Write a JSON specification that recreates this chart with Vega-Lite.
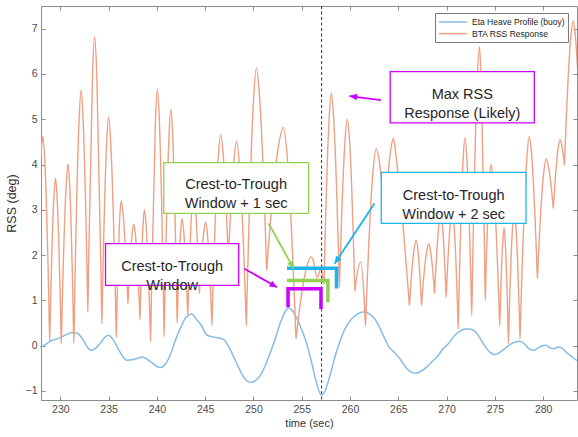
{
 "$schema": "https://vega.github.io/schema/vega-lite/v6.json",
 "width": 536,
 "height": 394,
 "autosize": {"type": "none"},
 "padding": {"left": 41, "top": 6, "right": 1, "bottom": 37},
 "background": "white",
 "config": {
  "view": {"stroke": null},
  "axis": {"grid": false, "domainColor": "#8c8c8c", "tickColor": "#8c8c8c", "tickSize": -4, "labelPadding": 8, "labelFont": "Liberation Sans", "labelFontSize": 10.5, "labelColor": "#4a4a4a", "titleFont": "Liberation Sans", "titleFontWeight": "normal", "titleColor": "#333333", "labelFlush": false}
 },
 "datasets": {
  "heave": [
   {"t":227.9,"v":-0.03},{"t":228.5,"v":0.03},{"t":229.1,"v":0.11},{"t":229.7,"v":0.15},{"t":230.2,"v":0.2},{"t":230.7,"v":0.25},{"t":231.2,"v":0.29},{"t":231.7,"v":0.28},{"t":232.3,"v":0.15},{"t":232.8,"v":-0.03},{"t":233.1,"v":-0.1},{"t":233.5,"v":-0.08},{"t":234.1,"v":0.04},{"t":234.6,"v":0.18},{"t":235.0,"v":0.23},{"t":235.4,"v":0.15},{"t":236.0,"v":-0.07},{"t":236.5,"v":-0.25},{"t":236.9,"v":-0.32},{"t":237.5,"v":-0.31},{"t":238.0,"v":-0.28},{"t":238.5,"v":-0.25},{"t":239.0,"v":-0.3},{"t":239.5,"v":-0.38},{"t":240.0,"v":-0.46},{"t":240.4,"v":-0.48},{"t":240.9,"v":-0.4},{"t":241.4,"v":-0.2},{"t":241.9,"v":0.11},{"t":242.5,"v":0.42},{"t":243.0,"v":0.62},{"t":243.6,"v":0.7},{"t":244.1,"v":0.58},{"t":244.6,"v":0.45},{"t":245.1,"v":0.25},{"t":245.6,"v":0.2},{"t":246.1,"v":0.18},{"t":246.6,"v":0.16},{"t":247.0,"v":0.12},{"t":247.5,"v":-0.05},{"t":248.0,"v":-0.27},{"t":248.5,"v":-0.5},{"t":249.0,"v":-0.7},{"t":249.5,"v":-0.8},{"t":249.8,"v":-0.81},{"t":250.2,"v":-0.77},{"t":250.7,"v":-0.66},{"t":251.2,"v":-0.45},{"t":251.7,"v":-0.18},{"t":252.2,"v":0.12},{"t":252.7,"v":0.45},{"t":253.2,"v":0.72},{"t":253.6,"v":0.83},{"t":254.0,"v":0.78},{"t":254.5,"v":0.6},{"t":255.0,"v":0.35},{"t":255.5,"v":0.05},{"t":256.0,"v":-0.35},{"t":256.5,"v":-0.8},{"t":257.05,"v":-1.1},{"t":257.5,"v":-0.95},{"t":258.0,"v":-0.6},{"t":258.5,"v":-0.2},{"t":259.0,"v":0.12},{"t":259.6,"v":0.42},{"t":260.2,"v":0.6},{"t":260.8,"v":0.7},{"t":261.5,"v":0.75},{"t":262.0,"v":0.7},{"t":262.6,"v":0.58},{"t":263.1,"v":0.38},{"t":263.6,"v":0.15},{"t":264.1,"v":-0.05},{"t":264.6,"v":-0.15},{"t":265.2,"v":-0.3},{"t":265.8,"v":-0.48},{"t":266.3,"v":-0.58},{"t":266.8,"v":-0.61},{"t":267.3,"v":-0.57},{"t":267.9,"v":-0.48},{"t":268.5,"v":-0.35},{"t":269.0,"v":-0.25},{"t":269.6,"v":-0.08},{"t":270.2,"v":0.05},{"t":270.8,"v":0.22},{"t":271.4,"v":0.32},{"t":271.9,"v":0.37},{"t":272.4,"v":0.37},{"t":273.0,"v":0.3},{"t":273.5,"v":0.15},{"t":274.0,"v":-0.02},{"t":274.5,"v":-0.15},{"t":275.0,"v":-0.2},{"t":275.5,"v":-0.15},{"t":276.0,"v":-0.07},{"t":276.6,"v":0.03},{"t":277.1,"v":0.08},{"t":277.6,"v":0.1},{"t":278.1,"v":0.03},{"t":278.6,"v":-0.08},{"t":279.0,"v":-0.1},{"t":279.4,"v":-0.06},{"t":279.9,"v":0.0},{"t":280.3,"v":0.01},{"t":280.7,"v":-0.05},{"t":281.1,"v":-0.07},{"t":281.5,"v":-0.03},{"t":281.9,"v":-0.05},{"t":282.4,"v":-0.15},{"t":283.0,"v":-0.25},{"t":283.5,"v":-0.33}
  ],
  "rss": [
   {"t":227.9,"v":4.05},{"t":228.0,"v":4.25},{"t":228.2,"v":4.62},{"t":228.41,"v":4.01},{"t":228.82,"v":0.91},{"t":228.9,"v":0.1},{"t":228.98,"v":0.85},{"t":229.32,"v":3.22},{"t":229.5,"v":3.7},{"t":229.68,"v":3.21},{"t":230.02,"v":0.81},{"t":230.1,"v":0.04},{"t":230.18,"v":0.75},{"t":230.59,"v":3.48},{"t":230.8,"v":4.01},{"t":230.98,"v":3.48},{"t":231.32,"v":0.88},{"t":231.4,"v":0.05},{"t":231.48,"v":0.99},{"t":231.93,"v":4.9},{"t":232.15,"v":5.65},{"t":232.36,"v":4.99},{"t":232.77,"v":1.62},{"t":232.85,"v":0.74},{"t":232.93,"v":1.83},{"t":233.34,"v":6.01},{"t":233.55,"v":6.82},{"t":233.78,"v":5.97},{"t":234.22,"v":1.54},{"t":234.3,"v":0.48},{"t":234.38,"v":1.3},{"t":234.79,"v":4.44},{"t":235.0,"v":5.05},{"t":235.24,"v":4.4},{"t":235.72,"v":0.94},{"t":235.8,"v":0.18},{"t":235.88,"v":0.94},{"t":236.15,"v":2.8},{"t":236.3,"v":3.2},{"t":236.51,"v":2.89},{"t":236.92,"v":1.33},{"t":237.0,"v":0.92},{"t":237.08,"v":1.29},{"t":237.42,"v":2.44},{"t":237.6,"v":2.68},{"t":237.8,"v":2.4},{"t":238.17,"v":0.98},{"t":238.25,"v":0.57},{"t":238.33,"v":1.25},{"t":238.57,"v":2.67},{"t":238.7,"v":3.0},{"t":238.9,"v":2.61},{"t":239.27,"v":0.64},{"t":239.35,"v":0.08},{"t":239.43,"v":1.08},{"t":239.84,"v":4.92},{"t":240.05,"v":5.67},{"t":240.26,"v":4.94},{"t":240.67,"v":1.18},{"t":240.75,"v":0.2},{"t":240.83,"v":1.1},{"t":241.24,"v":4.55},{"t":241.45,"v":5.22},{"t":241.65,"v":4.59},{"t":242.02,"v":1.41},{"t":242.1,"v":0.5},{"t":242.18,"v":1.08},{"t":242.45,"v":2.5},{"t":242.6,"v":2.81},{"t":242.78,"v":2.52},{"t":243.12,"v":1.1},{"t":243.2,"v":0.65},{"t":243.28,"v":1.23},{"t":243.62,"v":3.03},{"t":243.8,"v":3.4},{"t":243.98,"v":3.1},{"t":244.32,"v":1.62},{"t":244.4,"v":1.15},{"t":244.48,"v":1.46},{"t":244.86,"v":2.52},{"t":245.05,"v":2.73},{"t":245.25,"v":2.42},{"t":245.62,"v":0.89},{"t":245.7,"v":0.45},{"t":245.78,"v":1.04},{"t":246.33,"v":4.1},{"t":246.6,"v":4.66},{"t":246.84,"v":4.29},{"t":247.32,"v":2.33},{"t":247.4,"v":1.9},{"t":247.48,"v":2.28},{"t":248.0,"v":4.16},{"t":248.26,"v":4.51},{"t":248.56,"v":3.96},{"t":249.18,"v":0.95},{"t":249.26,"v":0.44},{"t":249.34,"v":1.13},{"t":249.99,"v":5.37},{"t":250.3,"v":6.13},{"t":250.62,"v":5.53},{"t":251.29,"v":2.18},{"t":251.37,"v":1.66},{"t":251.45,"v":1.89},{"t":252.58,"v":4.4},{"t":253.1,"v":4.82},{"t":253.49,"v":4.19},{"t":254.32,"v":0.6},{"t":254.4,"v":0.15},{"t":254.48,"v":0.3},{"t":255.49,"v":1.72},{"t":255.95,"v":1.96},{"t":256.15,"v":1.9},{"t":256.6,"v":1.5},{"t":257.0,"v":1.7},{"t":257.22,"v":1.45},{"t":257.3,"v":1.35},{"t":257.38,"v":2.05},{"t":257.83,"v":5.01},{"t":258.06,"v":5.58},{"t":258.31,"v":5.0},{"t":258.82,"v":1.93},{"t":258.9,"v":1.29},{"t":258.98,"v":1.86},{"t":259.47,"v":4.5},{"t":259.72,"v":5.0},{"t":259.96,"v":4.49},{"t":260.42,"v":1.81},{"t":260.5,"v":1.2},{"t":260.58,"v":1.34},{"t":261.1,"v":1.85},{"t":261.52,"v":0.79},{"t":261.6,"v":0.44},{"t":261.68,"v":0.89},{"t":262.37,"v":3.83},{"t":262.7,"v":4.35},{"t":262.97,"v":4.15},{"t":263.52,"v":3.06},{"t":263.6,"v":2.85},{"t":263.68,"v":3.09},{"t":264.23,"v":4.35},{"t":264.5,"v":4.58},{"t":264.75,"v":4.2},{"t":265.5,"v":2.62},{"t":266.07,"v":1.1},{"t":266.15,"v":0.89},{"t":266.23,"v":1.15},{"t":266.64,"v":2.14},{"t":266.85,"v":2.33},{"t":267.02,"v":2.14},{"t":267.32,"v":1.22},{"t":267.4,"v":0.89},{"t":267.48,"v":1.12},{"t":267.93,"v":2.07},{"t":268.15,"v":2.25},{"t":268.33,"v":2.1},{"t":268.67,"v":1.38},{"t":268.75,"v":1.15},{"t":268.83,"v":1.49},{"t":269.2,"v":2.67},{"t":269.4,"v":2.9},{"t":269.57,"v":2.65},{"t":269.87,"v":1.49},{"t":269.95,"v":1.07},{"t":270.03,"v":1.44},{"t":270.4,"v":2.74},{"t":270.6,"v":3.0},{"t":270.78,"v":2.65},{"t":271.12,"v":0.92},{"t":271.2,"v":0.37},{"t":271.28,"v":1.13},{"t":271.69,"v":4.03},{"t":271.9,"v":4.6},{"t":272.11,"v":4.07},{"t":272.52,"v":1.38},{"t":272.6,"v":0.67},{"t":272.68,"v":1.6},{"t":273.16,"v":5.81},{"t":273.4,"v":6.6},{"t":273.58,"v":5.85},{"t":273.92,"v":2.17},{"t":274.0,"v":1.0},{"t":274.08,"v":1.63},{"t":274.42,"v":3.6},{"t":274.6,"v":4.0},{"t":274.87,"v":3.52},{"t":275.42,"v":0.94},{"t":275.5,"v":0.44},{"t":275.58,"v":1.04},{"t":275.82,"v":2.31},{"t":275.95,"v":2.6},{"t":276.08,"v":2.26},{"t":276.32,"v":0.75},{"t":276.4,"v":0.04},{"t":276.48,"v":0.66},{"t":276.82,"v":2.6},{"t":277.0,"v":3.0},{"t":277.18,"v":2.62},{"t":277.52,"v":0.75},{"t":277.6,"v":0.15},{"t":277.68,"v":0.74},{"t":278.27,"v":4.02},{"t":278.55,"v":4.62},{"t":278.81,"v":4.2},{"t":279.32,"v":1.94},{"t":279.4,"v":1.48},{"t":279.48,"v":1.85},{"t":280.03,"v":3.77},{"t":280.3,"v":4.12},{"t":280.53,"v":3.97},{"t":280.97,"v":3.21},{"t":281.05,"v":3.03},{"t":281.13,"v":3.3},{"t":281.54,"v":4.35},{"t":281.75,"v":4.55},{"t":281.88,"v":4.47},{"t":282.12,"v":4.14},{"t":282.2,"v":3.98},{"t":282.28,"v":4.43},{"t":282.83,"v":6.74},{"t":283.1,"v":7.17},{"t":283.3,"v":6.9},{"t":283.6,"v":6.0}
  ],
  "boxes": [
   {"c":"g","x1":240.71,"x2":255.71,"y1":2.92,"y2":4.04,"tx":248.2,"ty":3.54,"label":"Crest-to-Trough\nWindow + 1 sec"},
   {"c":"m","x1":234.68,"x2":248.47,"y1":1.33,"y2":2.255,"tx":241.58,"ty":1.74,"label":"Crest-to-Trough\nWindow"},
   {"c":"c","x1":263.23,"x2":278.22,"y1":2.7,"y2":3.825,"tx":270.73,"ty":3.31,"label":"Crest-to-Trough\nWindow + 2 sec"},
   {"c":"m","x1":264.16,"x2":279.08,"y1":4.92,"y2":6.05,"tx":271.62,"ty":5.53,"label":"Max RSS\nResponse (Likely)"}
  ],
  "brackets": [
   {"c":"m","o":1,"t":253.58,"v":0.85},{"c":"m","o":2,"t":253.58,"v":1.257},{"c":"m","o":3,"t":256.99,"v":1.257},{"c":"m","o":4,"t":256.99,"v":0.81},
   {"c":"g","o":1,"t":253.47,"v":1.44},{"c":"g","o":2,"t":257.71,"v":1.44},{"c":"g","o":3,"t":257.71,"v":0.96},
   {"c":"c","o":1,"t":253.47,"v":1.71},{"c":"c","o":2,"t":258.6,"v":1.71},{"c":"c","o":3,"t":258.6,"v":1.26}
  ],
  "arrows": [
   {"id":"a1","c":"m","t1":263.2,"v1":5.42,"t2":259.95,"v2":5.51},
   {"id":"a2","c":"g","t1":251.57,"v1":2.7,"t2":254.16,"v2":1.7},
   {"id":"a3","c":"m","t1":249.06,"v1":1.7,"t2":252.44,"v2":1.29},
   {"id":"a4","c":"c","t1":262.53,"v1":3.14,"t2":258.4,"v2":1.81}
  ]
 },
 "resolve": {"axis": {"x": "independent", "y": "independent"}},
 "layer": [
  {
   "data": {"name": "heave"},
   "mark": {"type": "line", "strokeWidth": 1.5, "interpolate": "monotone"},
   "encoding": {
    "x": {"field": "t", "type": "quantitative", "scale": {"domain": [228, 283.5], "nice": false, "zero": false},
          "axis": {"orient": "bottom", "values": [230,235,240,245,250,255,260,265,270,275,280], "title": "time (sec)", "titleFontSize": 11, "titlePadding": 3}},
    "y": {"field": "v", "type": "quantitative", "scale": {"domain": [-1.2, 7.5], "nice": false, "zero": false},
          "axis": {"orient": "left", "values": [-1,0,1,2,3,4,5,6,7], "title": "RSS (deg)", "titleFontSize": 12.5, "titlePadding": 7}},
    "color": {"datum": "Eta Heave Profile (buoy)", "type": "nominal",
              "scale": {"domain": ["Eta Heave Profile (buoy)", "BTA RSS Response"], "range": ["#84BCE4", "#EFA083"]},
              "legend": {"orient": "none", "legendX": 394, "legendY": 7, "title": null, "symbolType": "M-1,0L4.6,0", "symbolSize": 100, "symbolStrokeWidth": 1.5, "labelFont": "Liberation Sans", "labelFontSize": 8.5, "labelColor": "#222222", "fillColor": "white", "strokeColor": "#7a7a7a", "padding": 3, "rowPadding": 0.6, "labelOffset": 22}}
   }
  },
  {
   "data": {"name": "rss"},
   "mark": {"type": "line", "strokeWidth": 1.4, "interpolate": "monotone", "clip": true},
   "encoding": {
    "x": {"field": "t", "type": "quantitative", "axis": null},
    "y": {"field": "v", "type": "quantitative", "axis": null},
    "color": {"datum": "BTA RSS Response", "type": "nominal"}
   }
  },
  {
   "data": {"values": [{"t": 257.05}]},
   "mark": {"type": "rule", "strokeDash": [3, 2.5], "color": "#444444", "strokeWidth": 1.1},
   "encoding": {"x": {"field": "t", "type": "quantitative", "axis": null}}
  },
  {
   "data": {"name": "boxes"},
   "mark": {"type": "rect", "fill": "white", "strokeWidth": 1.3},
   "encoding": {
    "x": {"field": "x1", "type": "quantitative", "axis": null},
    "x2": {"field": "x2"},
    "y": {"field": "y1", "type": "quantitative", "axis": null},
    "y2": {"field": "y2"},
    "stroke": {"field": "c", "type": "nominal", "scale": {"domain": ["m", "g", "c"], "range": ["#CC00FF", "#92D050", "#1CB4EE"]}, "legend": null}
   }
  },
  {
   "data": {"name": "boxes"},
   "mark": {"type": "text", "font": "Liberation Sans", "fontSize": 14.5, "lineBreak": "\n", "lineHeight": 19, "color": "#262626", "align": "center", "baseline": "middle"},
   "encoding": {
    "x": {"field": "tx", "type": "quantitative", "axis": null},
    "y": {"field": "ty", "type": "quantitative", "axis": null},
    "text": {"field": "label", "type": "nominal"}
   }
  },
  {
   "data": {"name": "brackets"},
   "mark": {"type": "line", "strokeWidth": 3.5, "strokeCap": "butt", "strokeJoin": "miter"},
   "encoding": {
    "x": {"field": "t", "type": "quantitative", "axis": {"orient": "top", "labels": false, "title": null, "values": [230,235,240,245,250,255,260,265,270,275,280]}},
    "y": {"field": "v", "type": "quantitative", "axis": {"orient": "right", "labels": false, "title": null, "values": [-1,0,1,2,3,4,5,6,7]}},
    "stroke": {"field": "c", "type": "nominal", "legend": null},
    "order": {"field": "o", "type": "quantitative"}
   }
  },
  {
   "data": {"name": "arrows"},
   "mark": {"type": "rule", "strokeWidth": 1.8},
   "encoding": {
    "x": {"field": "t1", "type": "quantitative", "axis": null},
    "y": {"field": "v1", "type": "quantitative", "axis": null},
    "x2": {"field": "t2"},
    "y2": {"field": "v2"},
    "stroke": {"field": "c", "type": "nominal", "legend": null}
   }
  },
  {
   "data": {"name": "arrows"},
   "transform": [{"filter": "datum.id == 'a1'"}],
   "mark": {"type": "point", "shape": "M0,0L-2,-0.9L-2,0.9Z", "size": 55, "filled": true, "opacity": 1, "strokeWidth": 0, "angle": 187},
   "encoding": {
    "x": {"field": "t2", "type": "quantitative", "axis": null},
    "y": {"field": "v2", "type": "quantitative", "axis": null},
    "fill": {"field": "c", "type": "nominal", "scale": {"domain": ["m", "g", "c"], "range": ["#CC00FF", "#92D050", "#1CB4EE"]}, "legend": null}
   }
  },
  {
   "data": {"name": "arrows"},
   "transform": [{"filter": "datum.id == 'a2'"}],
   "mark": {"type": "point", "shape": "M0,0L-2,-0.9L-2,0.9Z", "size": 55, "filled": true, "opacity": 1, "strokeWidth": 0, "angle": 61},
   "encoding": {
    "x": {"field": "t2", "type": "quantitative", "axis": null},
    "y": {"field": "v2", "type": "quantitative", "axis": null},
    "fill": {"field": "c", "type": "nominal", "legend": null}
   }
  },
  {
   "data": {"name": "arrows"},
   "transform": [{"filter": "datum.id == 'a3'"}],
   "mark": {"type": "point", "shape": "M0,0L-2,-0.9L-2,0.9Z", "size": 55, "filled": true, "opacity": 1, "strokeWidth": 0, "angle": 29},
   "encoding": {
    "x": {"field": "t2", "type": "quantitative", "axis": null},
    "y": {"field": "v2", "type": "quantitative", "axis": null},
    "fill": {"field": "c", "type": "nominal", "legend": null}
   }
  },
  {
   "data": {"name": "arrows"},
   "transform": [{"filter": "datum.id == 'a4'"}],
   "mark": {"type": "point", "shape": "M0,0L-2,-0.9L-2,0.9Z", "size": 55, "filled": true, "opacity": 1, "strokeWidth": 0, "angle": 124},
   "encoding": {
    "x": {"field": "t2", "type": "quantitative", "axis": null},
    "y": {"field": "v2", "type": "quantitative", "axis": null},
    "fill": {"field": "c", "type": "nominal", "legend": null}
   }
  }
 ]
}
